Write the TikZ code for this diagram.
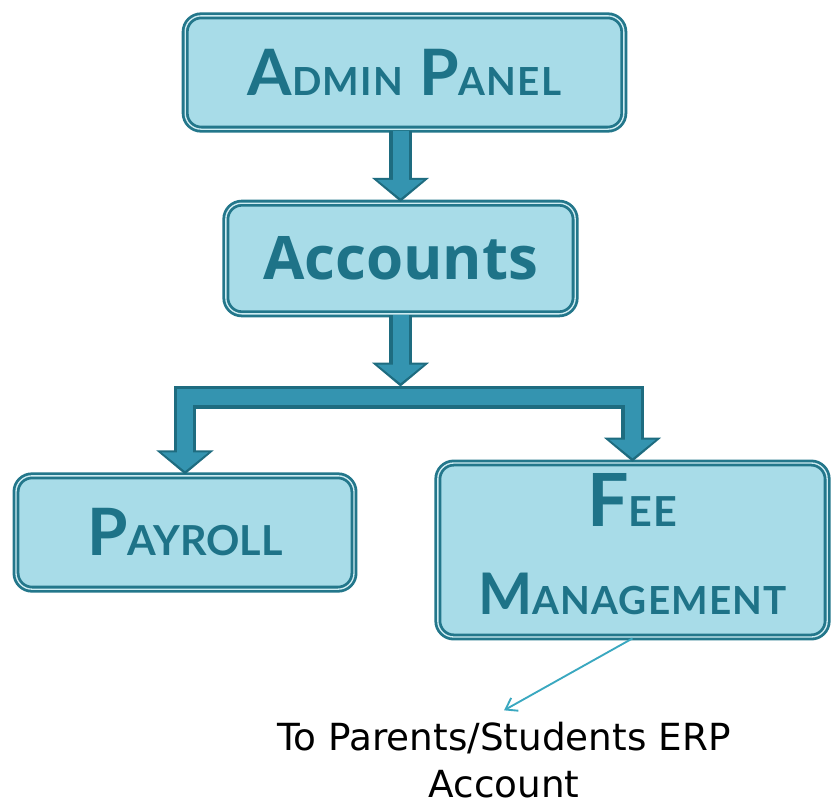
\documentclass[tikz,border=0pt]{standalone}
\usepackage{fontspec}
\setmainfont{DejaVu Sans}
\newfontfamily\titlefont{Lato}
\newfontfamily\accfont{Open Sans}
\usetikzlibrary{arrows.meta}

\definecolor{boxfill}{HTML}{A8DCE8}
\definecolor{boxline}{HTML}{23778B}
\definecolor{boxtext}{HTML}{1E7388}
\definecolor{arrowdark}{HTML}{1E6C80}
\definecolor{arrowmid}{HTML}{3494B0}
\definecolor{linkline}{HTML}{3AA8C0}

% big first letter, rest in small capitals
\newcommand{\capword}[4]{{\fontsize{#1}{#1}\selectfont #3}{\fontsize{#2}{#2}\selectfont #4}}
% block arrow: dark outline, lighter inside
\newcommand{\blockpath}[1]{\draw[blockout] #1; \draw[blockin] #1;}

\tikzset{
  box/.style={rectangle, rounded corners=12pt, fill=boxfill, draw=boxline, line width=2.1pt,
    double=boxfill!55!white, double distance=1pt, text=boxtext, align=center},
  blockout/.style={draw=arrowdark, line width=17pt, line join=miter,
    -{Triangle[width=42pt,length=18pt]}},
  blockin/.style={draw=arrowmid, line width=12pt, line join=miter, shorten >=2.5pt,
    -{Triangle[width=34pt,length=14pt]}},
  linkarrow/.style={draw=linkline, line width=1.4pt, -{Straight Barb[length=8pt,width=11pt]}}
}

\begin{document}
\begin{tikzpicture}[x=0.75pt, y=-0.75pt]
        \fill[white] (0,0) rectangle (831,807);
        \useasboundingbox (0,0) rectangle (831,807);

        % Draw the boxes
        \node[box, minimum width=329pt, minimum height=85pt, font=\titlefont\bfseries\addfontfeatures{LetterSpace=3}\fontsize{44}{44}\selectfont] (admin) at (404.5,72.5)
            {\capword{48}{29}{A}{DMIN} \capword{48}{29}{P}{ANEL}};
        \node[box, minimum width=262pt, minimum height=83pt, font=\accfont\bfseries\fontsize{45}{50}\selectfont] (accounts) at (400.5,258.5) {Accounts};
        \node[box, minimum width=253.5pt, minimum height=85pt, font=\titlefont\bfseries] (payroll) at (185,532.5)
            {\capword{49}{31}{P}{AYROLL}};
        \node[box, minimum width=292pt, minimum height=130.5pt, text depth=9pt,
              font=\titlefont\bfseries\addfontfeatures{LetterSpace=3}\fontsize{30}{66}\selectfont] (fee) at (632.5,550)
            {\capword{55}{31}{F}{EE}\\\capword{43}{29}{M}{ANAGEMENT}};

        % Note below the fee box
        \node[font=\fontsize{28}{35.25}\selectfont, align=center, inner sep=8.6pt] (erp) at (504,760)
            {To Parents/Students ERP\\Account};

        % Split point on the bar
        \path (accounts.south) ++(0,82) coordinate (split);

        % Block arrows
        \blockpath{(split) -| (payroll.north)}
        \blockpath{(split) -| (fee.north)}
        \blockpath{(admin.south -| accounts.north) -- (accounts.north)}
        \blockpath{(accounts.south) -- ([yshift=8pt]split)}

        % Thin arrow to the note
        \draw[linkarrow] (fee.south) -- (erp.north);
    \end{tikzpicture}
\end{document}
